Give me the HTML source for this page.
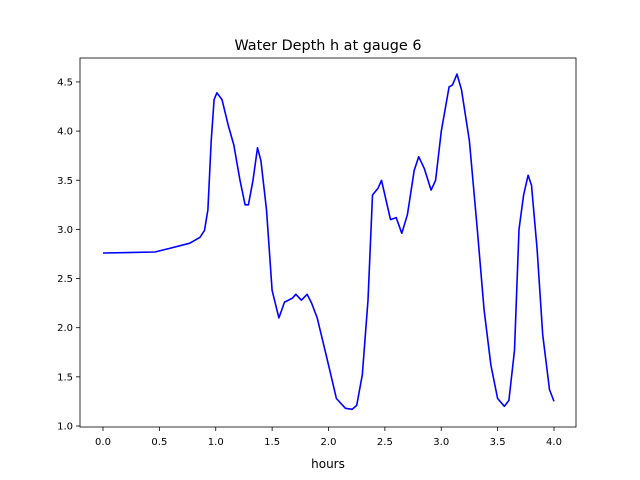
<!DOCTYPE html>
<html><head><meta charset="utf-8">
<style>
body{margin:0;background:#fff;}
svg{display:block;font-family:"DejaVu Sans","Liberation Sans",sans-serif;}
</style></head>
<body>
<svg id="chart" width="640" height="480">
  <rect x="0" y="0" width="640" height="480" fill="#fff"/>
  <text x="328" y="50" font-size="14.4" text-anchor="middle">Water Depth h at gauge 6</text>
  <g id="axes"></g>
  <text x="328" y="468" font-size="12" text-anchor="middle">hours</text>
</svg>
<script>
const hours=[0,0.46,0.6,0.77,0.86,0.9,0.93,0.96,0.985,1.01,1.055,1.11,1.16,1.215,1.26,1.29,1.33,1.37,1.4,1.45,1.5,1.56,1.61,1.68,1.71,1.76,1.81,1.85,1.9,1.98,2.07,2.15,2.21,2.25,2.3,2.35,2.39,2.44,2.47,2.51,2.55,2.6,2.65,2.7,2.76,2.8,2.85,2.91,2.95,3.0,3.07,3.1,3.14,3.18,3.25,3.32,3.38,3.44,3.5,3.56,3.6,3.65,3.69,3.73,3.77,3.8,3.85,3.9,3.96,4.0];
const depth=[2.76,2.77,2.81,2.86,2.92,2.99,3.2,3.9,4.32,4.39,4.32,4.06,3.86,3.5,3.25,3.25,3.5,3.83,3.7,3.2,2.38,2.1,2.26,2.3,2.34,2.28,2.34,2.25,2.1,1.72,1.28,1.18,1.17,1.21,1.52,2.28,3.35,3.42,3.5,3.3,3.1,3.12,2.96,3.15,3.6,3.74,3.62,3.4,3.5,4.0,4.45,4.47,4.58,4.42,3.9,3.0,2.18,1.62,1.28,1.2,1.26,1.77,3.0,3.35,3.55,3.45,2.8,1.93,1.37,1.25];
const xTicks=["0.0","0.5","1.0","1.5","2.0","2.5","3.0","3.5","4.0"];
const yTicks=["1.0","1.5","2.0","2.5","3.0","3.5","4.0","4.5"];
const L=80,R=576,T=58,B=427;
const xs=v=>103+v*112.75;
const ys=v=>426-(v-1)*98.3;
const NS="http://www.w3.org/2000/svg";
const g=document.getElementById('axes');
function mk(t,a){const e=document.createElementNS(NS,t);for(const k in a)e.setAttribute(k,a[k]);g.appendChild(e);return e;}
xTicks.forEach(t=>{const x=xs(parseFloat(t));
 const l=mk('line',{x1:x,x2:x,y1:B,y2:B+4,stroke:'#000','stroke-width':0.8});
 
 
 const tx=mk('text',{x:x,y:B+18,'font-size':10,'text-anchor':'middle'});tx.textContent=t;
 
 
});
yTicks.forEach(t=>{const y=ys(parseFloat(t));
 const l=mk('line',{x1:L-4,x2:L,y1:y,y2:y,stroke:'#000','stroke-width':0.8});
 
 
 const tx=mk('text',{x:L-7,y:y+3.5,'font-size':10,'text-anchor':'end'});tx.textContent=t;
 
 
});
let d='';hours.forEach((h,i)=>{d+=(i?'L':'M')+xs(h).toFixed(1)+' '+ys(depth[i]).toFixed(1);});
const p=mk('path',{d:d,fill:'none',stroke:'#0000ff','stroke-width':1.6,'stroke-linejoin':'round'});


const f=mk('rect',{x:L,y:T,width:R-L,height:B-T,fill:'none',stroke:'#000','stroke-width':0.8});


</script>
</body></html>
